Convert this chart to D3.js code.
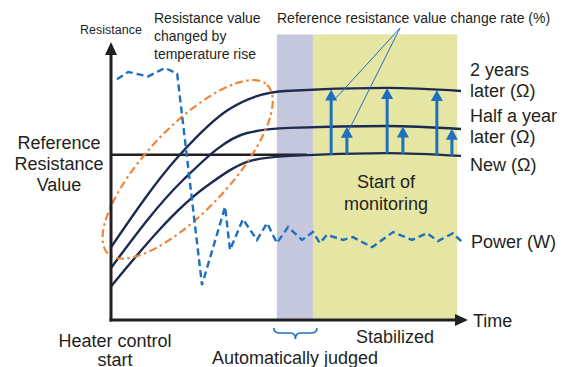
<!DOCTYPE html>
<html>
<head>
<meta charset="UTF-8">
<title>Reference resistance monitoring</title>
<script src="https://cdn.jsdelivr.net/npm/d3@7/dist/d3.min.js"></script>
<style>
  body { margin: 0; background: #fff; }
  svg { display: block; font-family: "Liberation Sans", Arial, sans-serif; }
  .lbl { fill: #231f20; }
</style>
</head>
<body>
<svg id="chart" width="574" height="367"></svg>
<script>
// time runs 0..100 along x, resistance (and power) 0..100 up y - arbitrary units
const curveNew   = [[0,12],[27,47.5],[40.6,57.1],[51,58.6],[79,59.6],[100,58.6]];
const curveHalf  = [[0,18.6],[20.6,50],[38.9,66.8],[51,68.6],[79,69.3],[100,68.2]];
const curve2yr   = [[0,26],[19.1,58.2],[33.4,75],[49.7,81.8],[79,82.9],[100,81.8]];
const power      = [[1.7,86],[4.9,88.6],[10.6,87],[15.4,90],[18.9,88],[26,12.5],[32.6,40.4],[34,25],[37.7,36],
                    [41.7,28.6],[44.6,34.6],[47.4,27.5],[50.6,33.2],[54.6,28.6],[57.7,31.4],[59.7,27.5],[61.7,30.4],
                    [66.3,28.6],[69.1,29.6],[74.6,26],[80.6,31.4],[86,28.6],[90.3,31],[93.4,28.2],[97.7,31],[100.6,27.5]];
const refValue   = 59;       // reference resistance line
const refEnd     = 56;       // where it joins the "new" curve
const judgedBand = [47.4, 57.7];
const stableBand = [57.7, 98.9];
const bandTop    = 102;
const arrows2yr  = [62.9, 78.9, 93.1];
const arrowsHalf = [67.4, 83.4, 97.4];
const leaderFrom = [82.6, 104.3];
const leaderTo   = [[64, 78.9], [68, 67.9]];
const ellipseCenter = [21.9, 53.8];

const svg = d3.select("#chart");
const x = d3.scaleLinear().domain([0, 100]).range([111, 461]);
const y = d3.scaleLinear().domain([0, 100]).range([320, 40]);

const navy = "#1d2a52", blue = "#1f6fbf", orange = "#f0853a", ink = "#231f20";

// linear lookup on a curve so arrows sit on the lines
function valueAt(curve, t) {
    const i = d3.bisector(d => d[0]).right(curve, t);
    const a = curve[Math.max(0, i - 1)], b = curve[Math.min(curve.length - 1, i)];
    if (a === b) return a[1];
    return a[1] + (b[1] - a[1]) * (t - a[0]) / (b[0] - a[0]);
}

// bands
svg.append("rect")
    .attr("x", x(judgedBand[0])).attr("width", x(judgedBand[1]) - x(judgedBand[0]))
    .attr("y", y(bandTop)).attr("height", y(0) - y(bandTop))
    .attr("fill", "#c5c8dc");
svg.append("rect")
    .attr("x", x(stableBand[0])).attr("width", x(stableBand[1]) - x(stableBand[0]))
    .attr("y", y(bandTop)).attr("height", y(0) - y(bandTop))
    .attr("fill", "#e5e6a3");

// reference line
svg.append("line")
    .attr("x1", x(0)).attr("x2", x(refEnd))
    .attr("y1", y(refValue)).attr("y2", y(refValue))
    .attr("stroke", ink).attr("stroke-width", 2.6);

// resistance curves
const line = d3.line().x(d => x(d[0])).y(d => y(d[1])).curve(d3.curveMonotoneX);
svg.selectAll("path.res")
    .data([curveNew, curveHalf, curve2yr])
    .join("path")
    .attr("class", "res")
    .attr("d", line)
    .attr("fill", "none")
    .attr("stroke", navy)
    .attr("stroke-width", 2.4);

// orange ellipse
svg.append("ellipse")
    .attr("cx", 0).attr("cy", 0).attr("rx", 116).attr("ry", 42)
    .attr("transform", `translate(${x(ellipseCenter[0])},${y(ellipseCenter[1])}) rotate(-46.8)`)
    .attr("fill", "none")
    .attr("stroke", orange)
    .attr("stroke-width", 2.2)
    .attr("stroke-dasharray", "8 3.5 2.5 3.5");

// power line
svg.append("path")
    .datum(power)
    .attr("d", d3.line().x(d => x(d[0])).y(d => y(d[1])))
    .attr("fill", "none")
    .attr("stroke", blue)
    .attr("stroke-width", 2.4)
    .attr("stroke-dasharray", "7 4");

// change-rate arrows
function arrow(t, target) {
    const x0 = x(t), yb = y(valueAt(curveNew, t)), yt = y(valueAt(target, t));
    svg.append("line")
        .attr("x1", x0).attr("x2", x0).attr("y1", yb).attr("y2", yt + 8)
        .attr("stroke", blue).attr("stroke-width", 3);
    svg.append("path")
        .attr("d", `M${x0},${yt}L${x0 - 6},${yt + 11}L${x0 + 6},${yt + 11}Z`)
        .attr("fill", blue);
}
arrows2yr.forEach(t => arrow(t, curve2yr));
arrowsHalf.forEach(t => arrow(t, curveHalf));

// leader lines
leaderTo.forEach(p => {
    svg.append("line")
        .attr("x1", x(leaderFrom[0])).attr("y1", y(leaderFrom[1]))
        .attr("x2", x(p[0])).attr("y2", y(p[1]))
        .attr("stroke", blue).attr("stroke-width", 1);
});

// axes
svg.append("line")
    .attr("x1", x(0)).attr("x2", x(0)).attr("y1", y(0) + 1.5).attr("y2", y(96))
    .attr("stroke", ink).attr("stroke-width", 3);
svg.append("path")
    .attr("d", `M${x(0)},${y(99.3)}L${x(0) - 6},${y(99.3) + 13}L${x(0) + 6},${y(99.3) + 13}Z`)
    .attr("fill", ink);
svg.append("line")
    .attr("x1", x(0) - 1.5).attr("x2", x(99)).attr("y1", y(0)).attr("y2", y(0))
    .attr("stroke", ink).attr("stroke-width", 3);
svg.append("path")
    .attr("d", `M${x(102)},${y(0)}L${x(102) - 13},${y(0) - 6}L${x(102) - 13},${y(0) + 6}Z`)
    .attr("fill", ink);

// brace under the judged band
{
    const bx0 = x(judgedBand[0]) - 3, bx1 = x(judgedBand[1]) + 4, bm = (bx0 + bx1) / 2, by = 328;
    svg.append("path")
        .attr("d", `M${bx0},${by} Q${bx0},${by + 5} ${bx0 + 6},${by + 5} L${bm - 5},${by + 5} Q${bm},${by + 5} ${bm},${by + 11}` +
                   ` Q${bm},${by + 5} ${bm + 5},${by + 5} L${bx1 - 6},${by + 5} Q${bx1},${by + 5} ${bx1},${by}`)
        .attr("fill", "none").attr("stroke", blue).attr("stroke-width", 1.6);
}

// text
function text(str, px, py, size, anchor) {
    svg.append("text")
        .attr("class", "lbl")
        .attr("x", px).attr("y", py)
        .attr("font-size", size)
        .attr("text-anchor", anchor || "start")
        .text(str);
}
text("Resistance", 80, 34, 12.5);
text("Resistance value", 154, 23, 14);
text("changed by", 154, 41, 14);
text("temperature rise", 154, 59, 14);
text("Reference resistance value change rate (%)", 277, 23, 14);

text("Reference", 59, 149, 18, "middle");
text("Resistance", 59, 170, 18, "middle");
text("Value", 59, 191, 18, "middle");

text("2 years", 470, 76, 18);
text("later (\u03A9)", 470, 97, 18);
text("Half a year", 470, 122, 18);
text("later (\u03A9)", 470, 143, 18);
text("New (\u03A9)", 470, 171, 18);
text("Power (W)", 471, 248, 18);
text("Time", 473, 327, 18);

text("Start of", 386, 188, 18, "middle");
text("monitoring", 386, 210, 18, "middle");

text("Heater control", 115, 347, 18, "middle");
text("start", 115, 366, 18, "middle");
text("Automatically judged", 295, 364, 18, "middle");
text("Stabilized", 395, 343, 18, "middle");
</script>
</body>
</html>
